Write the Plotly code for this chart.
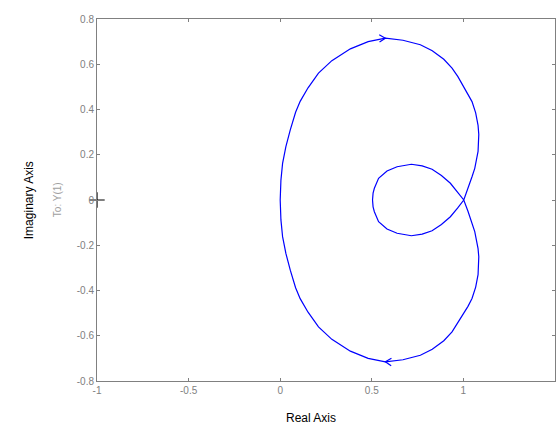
import numpy as np
import plotly.graph_objects as go

# Nyquist branch for w >= 0 (real part, imaginary part), starting at the
# inner-loop real-axis crossing and ending at the origin
re_pos = [0.504, 0.507, 0.514, 0.537, 0.583, 0.638, 0.716, 0.775, 0.829, 0.880,
          0.929, 0.968, 1.002, 1.025, 1.047, 1.062, 1.071, 1.080, 1.084, 1.084,
          1.080, 1.067, 1.047, 1.025, 1.002, 0.970, 0.938, 0.893, 0.830, 0.765,
          0.670, 0.574, 0.480, 0.383, 0.282, 0.209, 0.152, 0.109, 0.084, 0.055,
          0.031, 0.013, 0.004, 0.000]
im_pos = [0.000, 0.030, 0.052, 0.096, 0.128, 0.147, 0.158, 0.151, 0.136, 0.108,
          0.074, 0.036, 0.000, -0.050, -0.103, -0.140, -0.177, -0.215, -0.251, -0.290,
          -0.330, -0.385, -0.435, -0.470, -0.501, -0.545, -0.583, -0.622, -0.660, -0.686,
          -0.706, -0.715, -0.700, -0.668, -0.616, -0.561, -0.496, -0.436, -0.388, -0.310,
          -0.236, -0.162, -0.088, 0.000]

x_ticks = [-1, -0.5, 0, 0.5, 1, 1.5]
x_tick_text = ["-1", "-0.5", "0", "0.5", "1", "1.5"]
y_ticks = [-0.8, -0.6, -0.4, -0.2, 0, 0.2, 0.4, 0.6, 0.8]
y_tick_text = ["-0.8", "-0.6", "-0.4", "-0.2", "0", "0.2", "0.4", "0.6", "0.8"]

critical_point = (-1, 0)

# full contour: positive-frequency branch followed by its mirror image traversed backwards
re_full = np.array(re_pos + re_pos[::-1][1:])
im_full = np.array(im_pos + [-v for v in im_pos[::-1][1:]])

W, H = 559, 425
margin = dict(l=97, r=4, t=19, b=44)
xr, yr = (-1, 1.5), (-0.8, 0.8)
sx = (W - margin["l"] - margin["r"]) / (xr[1] - xr[0])
sy = (H - margin["t"] - margin["b"]) / (yr[1] - yr[0])


def arrow_head(idx, length=7.0, spread=0.55):
    """Chevron at curve point idx, oriented along the direction of travel."""
    x0, y0 = re_full[idx], im_full[idx]
    dx = (re_full[idx + 1] - re_full[idx - 1]) * sx
    dy = (im_full[idx + 1] - im_full[idx - 1]) * sy
    n = np.hypot(dx, dy)
    ux, uy = dx / n, dy / n
    xs, ys = [], []
    for sgn in (1, -1):
        c, s = np.cos(sgn * spread), np.sin(sgn * spread)
        bx, by = -(ux * c - uy * s), -(ux * s + uy * c)
        xs.append(x0 + bx * length / sx)
        ys.append(y0 + by * length / sy)
    return [xs[0], x0, xs[1]], [ys[0], y0, ys[1]]


top_idx = int(np.argmax(im_full))
bot_idx = int(np.argmin(im_full))
ax_t, ay_t = arrow_head(top_idx)
ax_b, ay_b = arrow_head(bot_idx)

blue = "#0000ff"
grey = "#808080"

fig = go.Figure()
fig.add_trace(go.Scatter(x=re_full, y=im_full, mode="lines",
                         line=dict(color=blue, width=1.2), hoverinfo="skip"))
fig.add_trace(go.Scatter(x=ax_t, y=ay_t, mode="lines",
                         line=dict(color=blue, width=1.2), hoverinfo="skip"))
fig.add_trace(go.Scatter(x=ax_b, y=ay_b, mode="lines",
                         line=dict(color=blue, width=1.2), hoverinfo="skip"))
fig.add_trace(go.Scatter(x=[critical_point[0]], y=[critical_point[1]], mode="markers",
                         marker=dict(symbol="cross-thin", size=11,
                                     line=dict(color="black", width=1.2)),
                         cliponaxis=False, hoverinfo="skip"))

axis_common = dict(showline=True, linecolor=grey, linewidth=1, mirror="ticks",
                   ticks="inside", ticklen=3, tickcolor=grey, showgrid=False,
                   zeroline=False, tickfont=dict(color=grey, size=10))

fig.update_layout(
    width=W, height=H, margin=margin, showlegend=False,
    plot_bgcolor="white", paper_bgcolor="white",
    font=dict(family="Liberation Sans, Arial, sans-serif", size=10, color=grey),
    xaxis=dict(range=list(xr), tickvals=x_ticks, ticktext=x_tick_text, **axis_common),
    yaxis=dict(range=list(yr), tickvals=y_ticks, ticktext=y_tick_text, **axis_common),
    annotations=[
        dict(text="Real Axis", xref="paper", yref="paper", x=0.467, y=-0.102,
             xanchor="center", yanchor="middle", showarrow=False,
             font=dict(size=12, color="black")),
        dict(text="Imaginary Axis", xref="paper", yref="paper", x=-0.148, y=0.5,
             xanchor="center", yanchor="middle", textangle=-90, showarrow=False,
             font=dict(size=12, color="black")),
        dict(text="To: Y(1)", xref="paper", yref="paper", x=-0.087, y=0.5,
             xanchor="center", yanchor="middle", textangle=-90, showarrow=False,
             font=dict(size=10, color="#a0a0a0")),
        dict(text="From: U(1)", xref="paper", yref="paper", x=0.5, y=1.051,
             xanchor="center", yanchor="bottom", showarrow=False,
             font=dict(size=11, color="#c8c8c8")),
    ],
)

fig.write_html("out.html")
